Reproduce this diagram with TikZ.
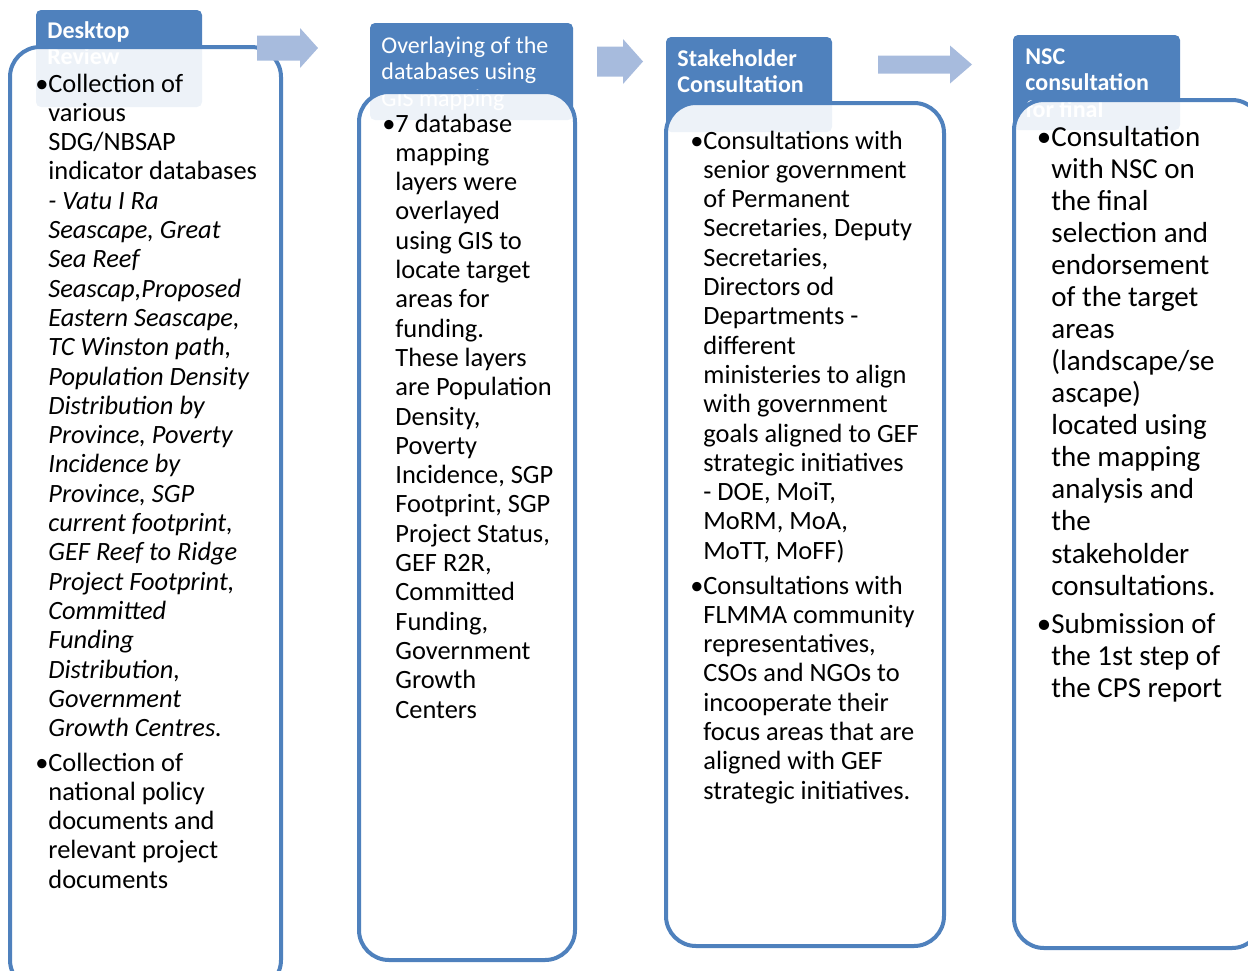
\documentclass[tikz,border=0pt]{standalone}
\usepackage{fontspec}
\setmainfont{Carlito}
\definecolor{boxblue}{RGB}{79,129,189}
\definecolor{arrowblue}{RGB}{167,187,221}

\begin{document}
\begin{tikzpicture}[x=0.5pt,y=-0.5pt,
	head/.style={fill=boxblue, rounded corners=2.5pt},
	headtext/.style={anchor=base west, inner sep=0pt, text=white, font=\fontsize{12}{13.4}\selectfont},
	body/.style={draw=boxblue, line width=2pt, fill=white, fill opacity=0.9, rounded corners=15pt},
	bodytext/.style={anchor=base west, inner sep=0pt, font=\fontsize{13.2}{14.65}\selectfont},
	flowarrow/.style={fill=arrowblue}]
		\useasboundingbox (0,0) rectangle (1248,970);

		% Column 1: desktop review
		\fill[head] (36,10) rectangle (202,107);
		\node[headtext, font=\fontsize{12}{13.4}\selectfont\bfseries] (h1) at (47,38)
			{\begin{tabular}[t]{@{}l@{}}Desktop\\Review\end{tabular}};
		\draw[body] (10,47) rectangle (281,990);
		\node[bodytext] (t1a) at (48,92) {\begin{tabular}[t]{@{}l@{}}
			\llap{•}Collection of\\various\\SDG/NBSAP\\indicator databases\\
			\textit{- Vatu I Ra}\\\textit{Seascape, Great}\\\textit{Sea Reef}\\
			\textit{Seascap,Proposed}\\\textit{Eastern Seascape,}\\\textit{TC Winston path,}\\
			\textit{Population Density}\\\textit{Distribution by}\\\textit{Province, Poverty}\\
			\textit{Incidence by}\\\textit{Province, SGP}\\\textit{current footprint,}\\
			\textit{GEF Reef to Ridge}\\\textit{Project Footprint,}\\\textit{Committed}\\
			\textit{Funding}\\\textit{Distribution,}\\\textit{Government}\\\textit{Growth Centres.}
		\end{tabular}};
		\node[bodytext] (t1b) at (48,771) {\begin{tabular}[t]{@{}l@{}}
			\llap{•}Collection of\\national policy\\documents and\\relevant project\\documents
		\end{tabular}};

		% Column 2: GIS overlay
		\fill[head] (370,23) rectangle (573,120);
		\node[headtext] (h2) at (381,53)
			{\begin{tabular}[t]{@{}l@{}}Overlaying of the\\databases using\\GIS mapping\end{tabular}};
		\draw[body] (359,92) rectangle (575,960);
		\node[bodytext] (t2a) at (395,132) {\begin{tabular}[t]{@{}l@{}}
			\llap{•}7 database\\mapping\\layers were\\overlayed\\using GIS to\\locate target\\
			areas for\\funding.\\These layers\\are Population\\Density,\\Poverty\\
			Incidence, SGP\\Footprint, SGP\\Project Status,\\GEF R2R,\\Committed\\
			Funding,\\Government\\Growth\\Centers
		\end{tabular}};

		% Column 3: stakeholder consultation
		\fill[head] (666,37) rectangle (832,132);
		\node[headtext, font=\fontsize{12}{13.4}\selectfont\bfseries] (h3) at (677,66)
			{\begin{tabular}[t]{@{}l@{}}Stakeholder\\Consultation\end{tabular}};
		\draw[body] (666,103) rectangle (944,946);
		\node[bodytext] (t3a) at (703,149) {\begin{tabular}[t]{@{}l@{}}
			\llap{•}Consultations with\\senior government\\of Permanent\\Secretaries, Deputy\\
			Secretaries,\\Directors od\\Departments -\\different\\ministeries to align\\
			with government\\goals aligned to GEF\\strategic initiatives\\- DOE, MoiT,\\
			MoRM, MoA,\\MoTT, MoFF)
		\end{tabular}};
		\node[bodytext] (t3b) at (703,594) {\begin{tabular}[t]{@{}l@{}}
			\llap{•}Consultations with\\FLMMA community\\representatives,\\CSOs and NGOs to\\
			incooperate their\\focus areas that are\\aligned with GEF\\strategic initiatives.
		\end{tabular}};

		% Column 4: NSC consultation
		\fill[head] (1013,35) rectangle (1180,130);
		\node[headtext, font=\fontsize{12}{13.4}\selectfont\bfseries] (h4) at (1025,64)
			{\begin{tabular}[t]{@{}l@{}}NSC\\consultation\\for final\end{tabular}};
		\draw[body] (1014,100) rectangle (1262,948);
		\node[bodytext, font=\fontsize{14.5}{16.04}\selectfont] (t4a) at (1051,146) {\begin{tabular}[t]{@{}l@{}}
			\llap{•}Consultation\\with NSC on\\the final\\selection and\\endorsement\\
			of the target\\areas\\(landscape/se\\ascape)\\located using\\the mapping\\
			analysis and\\the\\stakeholder\\consultations.
		\end{tabular}};
		\node[bodytext, font=\fontsize{14.5}{16.04}\selectfont] (t4b) at (1051,633) {\begin{tabular}[t]{@{}l@{}}
			\llap{•}Submission of\\the 1st step of\\the CPS report
		\end{tabular}};

		% Block arrows between the columns
		\foreach \xa/\xb/\xc/\yc/\hs/\hh in {257/300/318/48/12.5/20, 597/623/643/61.5/15/22.5, 878/950/972/64.5/9/19}
			\fill[flowarrow] (\xa,\yc-\hs) -- (\xb,\yc-\hs) -- (\xb,\yc-\hh) -- (\xc,\yc)
				-- (\xb,\yc+\hh) -- (\xb,\yc+\hs) -- (\xa,\yc+\hs) -- cycle;
	\end{tikzpicture}
\end{document}
